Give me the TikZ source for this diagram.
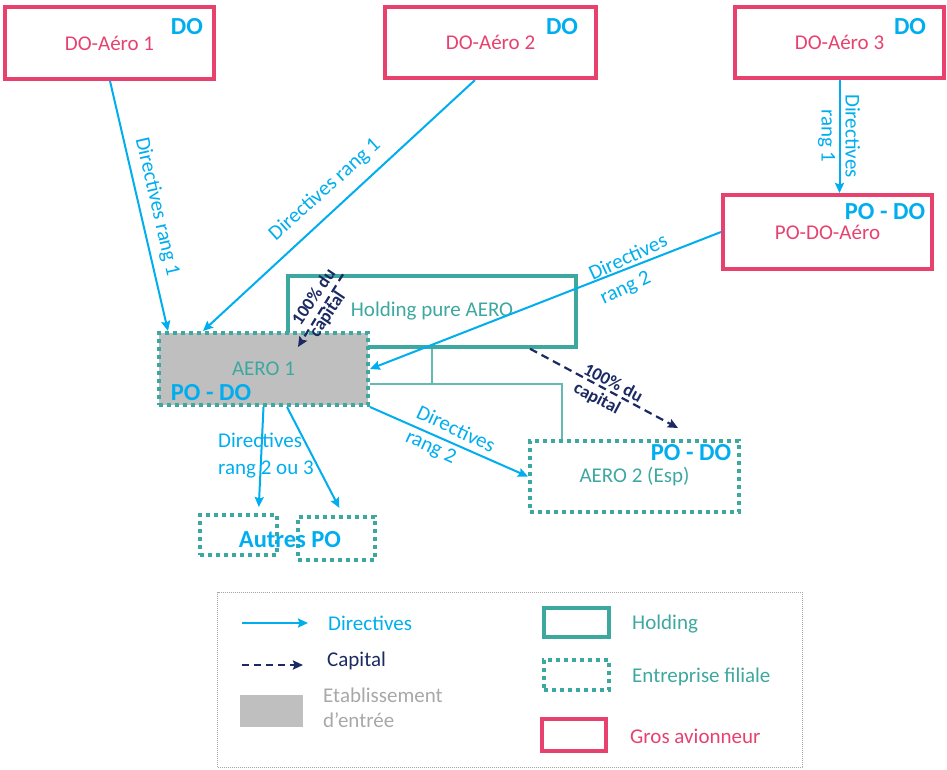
\documentclass[tikz,border=0pt]{standalone}
\usepackage{fontspec}
\setmainfont{Carlito}
\usetikzlibrary{arrows.meta,calc}
\definecolor{pinkc}{HTML}{E8416E}
\definecolor{cyanc}{HTML}{00AEEF}
\definecolor{tealc}{HTML}{3DA8A0}
\definecolor{navyc}{HTML}{1B2A63}
\definecolor{grayf}{HTML}{BFBFBF}
\definecolor{grayt}{HTML}{A8A8A8}
\begin{document}
\begin{tikzpicture}[x=1pt,y=-1pt,
  fnt/.style={font=\fontsize{21}{26}\selectfont},
  bigb/.style={font=\fontsize{24.5}{28}\selectfont\bfseries, text=cyanc, inner sep=0pt},
  avion/.style={draw=pinkc, line width=4pt, text=pinkc, fnt, inner sep=0pt},
  holdbox/.style={draw=tealc, line width=3.5pt, text=tealc, fnt, inner sep=0pt},
  filiale/.style={draw=tealc, line width=4pt, dash pattern=on 4pt off 4pt, text=tealc, fnt, inner sep=0pt},
  dirline/.style={draw=cyanc, line width=2pt, -{Stealth[length=10pt,width=9pt,inset=1.5pt]}},
  capline/.style={draw=navyc, line width=2.2pt, dash pattern=on 8pt off 5pt, -{Stealth[length=10pt,width=9pt,inset=1.5pt]}},
  dirlbl/.style={text=cyanc, fnt, inner sep=0pt},
  caplbl/.style={text=navyc, font=\fontsize{18}{21}\selectfont\bfseries, inner sep=0pt, align=left},
  legtxt/.style={fnt, inner sep=0pt, anchor=west},
  treeline/.style={draw=tealc!80, line width=1.2pt},
]
\useasboundingbox (0,0) rectangle (947,769);

% holding and tree
\node[holdbox, minimum width=288pt, minimum height=71pt] (hold) at (432,311.5) {Holding pure AERO};
\coordinate (tj) at (562,384);
\draw[treeline] (hold.south) -- (hold.south |- tj);

% subsidiaries
\node[filiale, fill=grayf, minimum width=209pt, minimum height=72pt] (aero1) at (263.5,369) {AERO 1};
\node[filiale, minimum width=209pt, minimum height=71pt] (aero2) at (634.5,476.5) {AERO 2 (Esp)};
\draw[treeline] (aero1.east |- tj) -- (tj) -- (tj |- aero2.north);
\node[filiale, minimum width=77pt, minimum height=40pt] (autres1) at (238.5,535) {};
\node[filiale, minimum width=77pt, minimum height=43pt] (autres2) at (336.5,538.5) {};

% big plane makers
\node[avion, minimum width=209pt, minimum height=72pt] (do1) at (109.5,43) {DO-Aéro 1};
\node[avion, minimum width=211pt, minimum height=71pt] (do2) at (490.5,42.5) {DO-Aéro 2};
\node[avion, minimum width=209pt, minimum height=71pt] (do3) at (839.5,42.5) {DO-Aéro 3};
\node[avion, minimum width=209pt, minimum height=74pt] (podo) at (827.5,232) {PO-DO-Aéro};

% bold tags
\node[bigb] (do1t) at (187,27) {DO};
\node[bigb] (do2t) at (562,27) {DO};
\node[bigb] (do3t) at (910,27) {DO};
\node[bigb] (podot) at (885,212) {PO - DO};
\node[bigb] (aero1t) at (211,393) {PO - DO};
\node[bigb] (aero2t) at (691,453) {PO - DO};
\node[bigb] (autrest) at (290,540) {Autres PO};

% directives
\draw[dirline] ([xshift=0.5pt]do1.south) -- ([xshift=11pt]aero1.north west);
\draw[dirline] ([xshift=-15.5pt]do2.south) -- ([xshift=46pt]aero1.north west);
\draw[dirline] (do3.south) -- (do3.south |- podo.north);
\draw[dirline] (podo.west) -- (aero1.east);
\draw[dirline] (aero1.south east) -- (aero2.west);
\draw[dirline, shorten >=6pt] (aero1.south) -- ([xshift=20pt]autres1.north);
\draw[dirline, shorten >=8pt] ([xshift=23.5pt]aero1.south) -- ([xshift=6.5pt]autres2.north);

% capital
\coordinate (c1e) at (298,347);
\coordinate (c2e) at (678,428);
\draw[capline] ([xshift=-89pt]hold.north) -- (c1e);
\draw[capline] ([xshift=98pt]hold.south) -- (c2e);

% labels
\node[dirlbl, rotate=-77] (l1) at (157,207) {Directives rang 1};
\node[dirlbl, rotate=42] (l2) at (325,190) {Directives rang 1};
\node[dirlbl, rotate=-90, align=center, font=\fontsize{21}{24}\selectfont] (l3) at (839,136) {Directives\\rang 1};
\node[dirlbl, rotate=25, align=left] (l4) at (634,270) {Directives\\rang 2};
\node[dirlbl, rotate=-25, align=left] (l5) at (450,442) {Directives\\rang 2};
\node[dirlbl, align=left, anchor=west, font=\fontsize{21}{27}\selectfont] (l6) at (218,456) {Directives\\rang 2 ou 3};
\node[caplbl, rotate=56] (l8) at (323,303) {100\% du\\capital};
\node[caplbl, rotate=-28] (l7) at (608,393) {100\% du\\capital};

% legend
\node[draw=gray!70, line width=0.8pt, dash pattern=on 1pt off 1pt, minimum width=585pt, minimum height=175pt, inner sep=0pt] (leg) at (510,680) {};
\coordinate (ld1) at (242,623); \coordinate (ld2) at (308,623);
\draw[dirline] (ld1) -- (ld2);
\node[legtxt, text=cyanc] (ldt) at (328,623) {Directives};
\coordinate (lc1) at (242,665); \coordinate (lc2) at (303,665);
\draw[capline, dash pattern=on 7pt off 5pt] (lc1) -- (lc2);
\node[legtxt, text=navyc] (lct) at (327,661) {Capital};
\node[fill=grayf, minimum width=63pt, minimum height=32pt, inner sep=0pt] (lgr) at (271.5,711) {};
\node[legtxt, text=grayt, align=left, font=\fontsize{21}{25}\selectfont] (lgt) at (323,708) {Etablissement\\d’entrée};
\node[holdbox, minimum width=65pt, minimum height=29pt] (lhb) at (576.5,622.5) {};
\node[legtxt, text=tealc] (lht) at (632,624) {Holding};
\node[filiale, minimum width=65pt, minimum height=30pt] (lfb) at (576.5,675) {};
\node[legtxt, text=tealc] (lft) at (632,677) {Entreprise filiale};
\node[avion, minimum width=64pt, minimum height=32pt] (lab) at (574,735) {};
\node[legtxt, text=pinkc] (lat) at (630,736) {Gros avionneur};
\end{tikzpicture}
\end{document}
